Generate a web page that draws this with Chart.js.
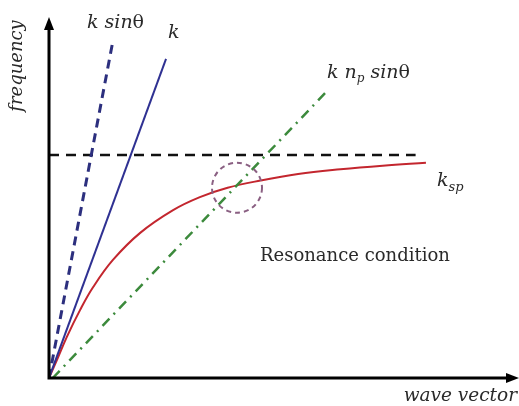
<!DOCTYPE html>
<html>
<head>
<meta charset="utf-8">
<script src="https://cdn.jsdelivr.net/npm/chart.js@4.4.1/dist/chart.umd.min.js"></script>
<style>
  html, body { margin: 0; padding: 0; background: #fff; }
  #chart { display: block; }
</style>
</head>
<body>
<canvas id="chart" width="519" height="406"></canvas>
<script>
// axes run 0..100 in both directions (arbitrary units)
var kSinX = [0, 13.6];
var kSinY = [0, 93.4];
var kX = [0, 24.9];
var kY = [0, 88.4];
var kNpX = [0.8, 59.4];
var kNpY = [0, 79.8];
var limitX = [0, 78];
var limitY = [61.8, 61.8];
var kspX = [0, 1.7, 3.8, 6.6, 9.4, 13.6, 19.4, 26.4, 32.1, 38, 45, 53, 62, 71, 80.2];
var kspY = [0, 5.0, 11.4, 18.8, 25.2, 32.7, 40.2, 46.5, 50.1, 52.7, 54.7, 56.5, 57.8, 58.8, 59.6];
var circle = [40, 52.7, 25]; // centre x, centre y, radius in px

function pts(xs, ys) {
    var out = [];
    for (var i = 0; i < xs.length; i++) out.push({ x: xs[i], y: ys[i] });
    return out;
}

var serif = '"DejaVu Serif", "Liberation Serif", serif';

// axes with arrows, circle and text labels
var extras = {
    id: 'extras',
    afterDatasetsDraw: function (chart) {
        var ctx = chart.ctx;
        var a = chart.chartArea;
        var sx = chart.scales.x, sy = chart.scales.y;
        ctx.save();

        // resonance circle
        ctx.strokeStyle = '#8a5f82';
        ctx.lineWidth = 2;
        ctx.setLineDash([5, 4]);
        ctx.beginPath();
        ctx.arc(sx.getPixelForValue(circle[0]), sy.getPixelForValue(circle[1]), circle[2], 0, Math.PI * 2);
        ctx.stroke();
        ctx.setLineDash([]);

        // axes
        ctx.strokeStyle = '#000';
        ctx.fillStyle = '#000';
        ctx.lineWidth = 3;
        ctx.beginPath();
        ctx.moveTo(a.left, a.top + 8);
        ctx.lineTo(a.left, a.bottom);
        ctx.lineTo(a.right - 8, a.bottom);
        ctx.stroke();
        ctx.beginPath();
        ctx.moveTo(a.left, a.top);
        ctx.lineTo(a.left - 5, a.top + 13);
        ctx.lineTo(a.left + 5, a.top + 13);
        ctx.closePath();
        ctx.fill();
        ctx.beginPath();
        ctx.moveTo(a.right, a.bottom);
        ctx.lineTo(a.right - 13, a.bottom - 5);
        ctx.lineTo(a.right - 13, a.bottom + 5);
        ctx.closePath();
        ctx.fill();

        ctx.fillStyle = '#2a2a2a';
        ctx.textBaseline = 'alphabetic';
        ctx.textAlign = 'left';

        ctx.font = 'italic 19px ' + serif;
        ctx.fillText('k sin', 87, 28);
        var w = ctx.measureText('k sin').width;
        ctx.font = '19px ' + serif;
        ctx.fillText('θ', 87 + w, 28);

        ctx.font = 'italic 19px ' + serif;
        ctx.fillText('k', 168, 38);

        ctx.fillText('k n', 327, 78);
        w = ctx.measureText('k n').width;
        ctx.font = 'italic 12px ' + serif;
        ctx.fillText('p', 327 + w, 82);
        var w2 = ctx.measureText('p').width;
        ctx.font = 'italic 19px ' + serif;
        ctx.fillText(' sin', 327 + w + w2, 78);
        var w3 = ctx.measureText(' sin').width;
        ctx.font = '19px ' + serif;
        ctx.fillText('θ', 327 + w + w2 + w3, 78);

        ctx.font = 'italic 19px ' + serif;
        ctx.fillText('k', 437, 186);
        w = ctx.measureText('k').width;
        ctx.font = 'italic 13px ' + serif;
        ctx.fillText('sp', 437 + w, 191);

        ctx.font = '18px ' + serif;
        ctx.fillText('Resonance condition', 260, 261);

        ctx.font = 'italic 18.5px ' + serif;
        ctx.textAlign = 'right';
        ctx.fillText('wave vector', 517, 401);

        ctx.translate(22, 66);
        ctx.rotate(-Math.PI / 2);
        ctx.textAlign = 'center';
        ctx.font = 'italic 18px ' + serif;
        ctx.fillText('frequency', 0, 0);

        ctx.restore();
    }
};

new Chart(document.getElementById('chart'), {
    type: 'scatter',
    data: {
        datasets: [
            {
                label: 'k sinθ',
                data: pts(kSinX, kSinY),
                showLine: true,
                borderColor: '#2c2f7e',
                borderWidth: 3,
                borderDash: [9, 6],
                pointRadius: 0
            },
            {
                label: 'k',
                data: pts(kX, kY),
                showLine: true,
                borderColor: '#2f3192',
                borderWidth: 2,
                pointRadius: 0
            },
            {
                label: 'k np sinθ',
                data: pts(kNpX, kNpY),
                showLine: true,
                borderColor: '#3c8a3c',
                borderWidth: 2.5,
                borderDash: [10, 6, 2, 6],
                pointRadius: 0
            },
            {
                label: 'limit',
                data: pts(limitX, limitY),
                showLine: true,
                borderColor: '#111',
                borderWidth: 2.5,
                borderDash: [10, 7],
                pointRadius: 0
            },
            {
                label: 'ksp',
                data: pts(kspX, kspY),
                showLine: true,
                borderColor: '#c3262e',
                borderWidth: 2,
                tension: 0.4,
                pointRadius: 0
            }
        ]
    },
    options: {
        responsive: false,
        animation: false,
        layout: { padding: { left: 49, right: 0, top: 17, bottom: 28 } },
        plugins: {
            legend: { display: false },
            tooltip: { enabled: false }
        },
        scales: {
            x: { type: 'linear', min: 0, max: 100, display: false },
            y: { type: 'linear', min: 0, max: 100, display: false }
        }
    },
    plugins: [extras]
});
</script>
</body>
</html>
